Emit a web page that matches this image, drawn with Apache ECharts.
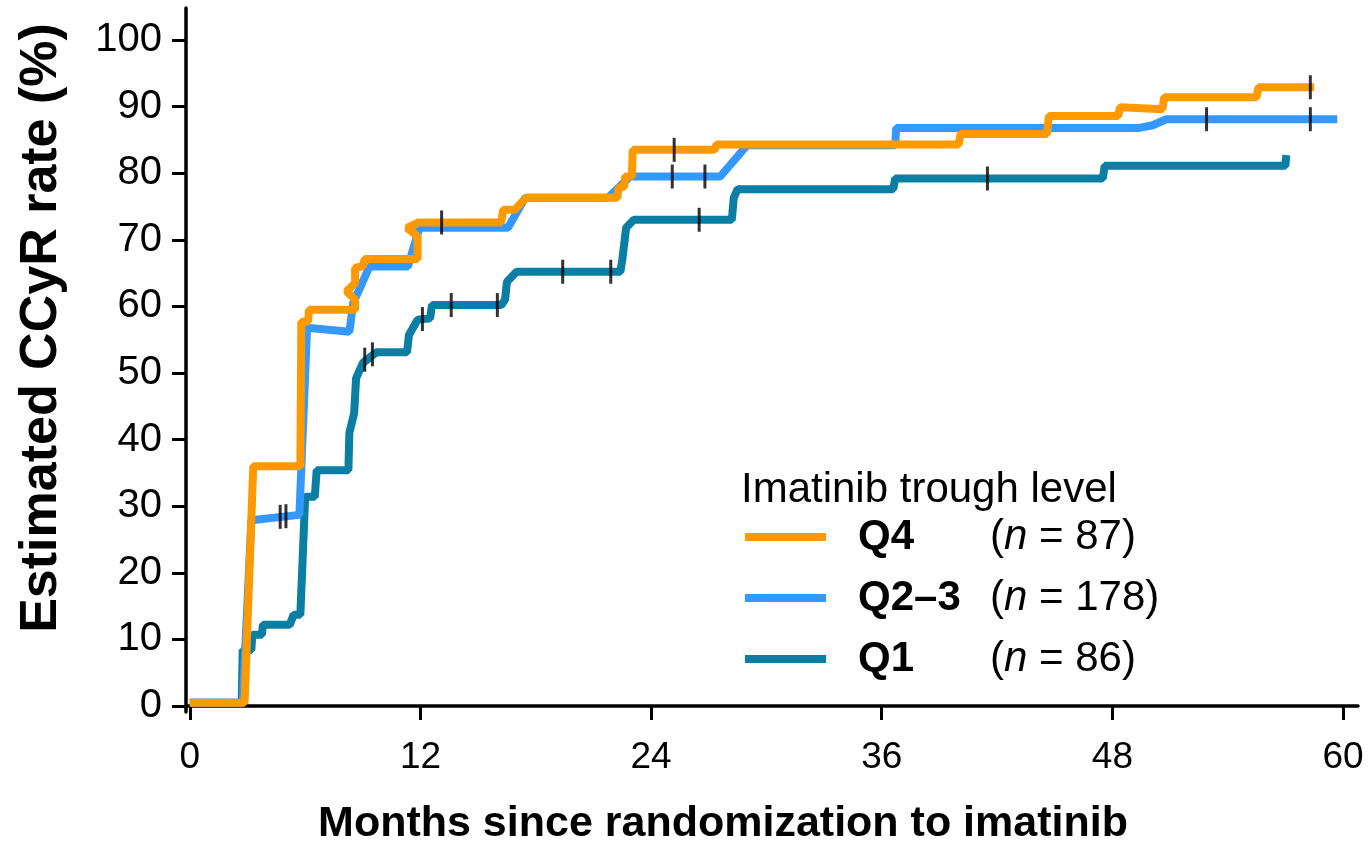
<!DOCTYPE html>
<html>
<head>
    <meta charset="UTF-8">
    <title>Estimated CCyR rate by imatinib trough level</title>
    <style>
        html, body {
            margin: 0;
            padding: 0;
            width: 100%;
            height: 100%;
            overflow: hidden;
            background: #fff;
        }
        #main {
            width: 1370px;
            height: 841px;
        }
    </style>
    <script src="https://cdn.jsdelivr.net/npm/echarts@6/dist/echarts.min.js"></script>
</head>
<body>
    <div id="main"></div>

    <script>
        // Kaplan-Meier style curves, [month, rate %]
        const q4Curve = [
            [0, 0.5], [2.85, 0.5], [3.3, 36], [5.75, 36], [5.8, 57.7], [6.15, 57.7], [6.2, 59.5],
            [8.6, 59.5], [8.6, 61], [8.15, 62.3], [8.6, 63.5], [8.6, 65.8], [9.0, 66], [9.1, 67.1],
            [11.85, 67.1], [11.85, 70.5], [11.3, 71.8], [11.9, 72.6], [16.2, 72.6], [16.3, 74.5],
            [16.9, 74.5], [17.5, 76.3], [22.25, 76.3], [22.3, 77.8], [22.6, 78.0], [22.65, 79.5],
            [23.0, 79.5], [23.05, 83.5], [27.3, 83.5], [27.4, 84.3], [40.0, 84.3], [40.1, 85.9],
            [44.6, 85.9], [44.7, 88.6], [48.3, 88.6], [48.4, 89.9], [50.6, 89.6], [50.7, 91.4],
            [55.5, 91.4], [55.6, 92.9], [58.5, 92.9]
        ];
        const q23Curve = [
            [0, 0.5], [2.75, 0.5], [3.2, 27.9], [5.7, 28.7], [6.1, 56.8], [8.3, 56.2], [8.5, 60.5],
            [9.35, 66], [11.35, 66], [11.95, 71.8], [16.55, 71.8], [17.45, 76.3], [21.75, 76.3],
            [22.9, 79.5], [27.6, 79.5], [29.0, 84.2], [36.7, 84.2], [36.75, 86.8], [49.4, 86.8],
            [50.1, 87.2], [50.8, 88.1], [59.7, 88.1]
        ];
        const q1Curve = [
            [0, 0.5], [2.7, 0.5], [2.75, 8.4], [3.2, 8.4], [3.25, 10.7], [3.75, 10.7], [3.8, 12.2],
            [5.2, 12.2], [5.4, 13.7], [5.75, 13.7], [6.0, 31.4], [6.5, 31.4], [6.6, 35.4],
            [8.25, 35.4], [8.3, 41], [8.55, 44], [8.65, 49.2], [9.0, 51.5], [9.7, 53.1],
            [11.3, 53.1], [11.4, 55.7], [11.85, 58], [12.5, 58.2], [12.6, 60.2], [16.2, 60.2],
            [16.4, 61], [16.5, 63.7], [17.0, 65.2], [22.4, 65.2], [22.5, 67], [22.7, 71.8],
            [23.1, 73], [28.2, 73], [28.3, 76.3], [28.5, 77.6], [36.6, 77.6], [36.7, 79.2],
            [47.5, 79.2], [47.6, 81.1], [57.0, 81.1], [57.05, 82.7]
        ];

        // censoring marks
        const q4Censor = [[13.1, 72.6], [25.2, 83.5], [58.3, 92.9]];
        const q23Censor = [[4.7, 28.4], [5.0, 28.5], [25.1, 79.5], [26.8, 79.5], [52.9, 88.1], [58.3, 88.1]];
        const q1Censor = [[9.1, 52.0], [9.5, 52.8], [12.1, 58.1], [13.6, 60.2], [16.0, 60.2],
            [19.4, 65.2], [21.9, 65.2], [26.5, 73], [41.5, 79.2]];

        const groupNames = ['Q4', 'Q2–3', 'Q1'];
        const groupCounts = [87, 178, 86];
        const groupColors = ['#ff9900', '#3399ff', '#0a7fa3'];

        const xTicks = [0, 12, 24, 36, 48, 60];
        const yTicks = [0, 10, 20, 30, 40, 50, 60, 70, 80, 90, 100];

        const FONT = '"Liberation Sans", Arial, sans-serif';

        const chart = echarts.init(document.getElementById('main'));

        function curveSeries(name, data, color) {
            return {
                name: name,
                type: 'line',
                data: data,
                showSymbol: false,
                symbol: 'none',
                lineStyle: { width: 8, color: color },
                itemStyle: { color: color },
                animation: false
            };
        }

        function censorSeries(data) {
            return {
                type: 'scatter',
                data: data,
                symbol: 'rect',
                symbolSize: [3, 24],
                itemStyle: { color: '#000' },
                z: 5,
                animation: false
            };
        }

        const option = {
            backgroundColor: '#fff',
            textStyle: { fontFamily: FONT, color: '#000' },
            title: {
                text: 'Imatinib trough level',
                left: 736,
                top: 464,
                textStyle: { fontFamily: FONT, fontSize: 42, fontWeight: 'normal', color: '#000' }
            },
            legend: {
                data: groupNames,
                orient: 'vertical',
                left: 745,
                top: 516,
                padding: 0,
                icon: 'rect',
                itemWidth: 81,
                itemHeight: 8,
                itemGap: 19,
                formatter: function (name) {
                    const n = groupCounts[groupNames.indexOf(name)];
                    return '{s| }{b|' + name + '}{r|(}{i|n}{r| = ' + n + ')}';
                },
                textStyle: {
                    fontFamily: FONT,
                    fontSize: 42,
                    color: '#000',
                    rich: {
                        s: { width: 27, fontSize: 42 },
                        b: { width: 132, fontSize: 42, fontWeight: 'bold', fontFamily: FONT },
                        r: { fontSize: 42, fontFamily: FONT },
                        i: { fontSize: 42, fontStyle: 'italic', fontFamily: FONT }
                    }
                }
            },
            grid: { left: 186, right: 12, top: 8, bottom: 129, outerBoundsMode: 'none', containLabel: false },
            xAxis: {
                type: 'value',
                min: -0.2,
                max: 60.78,
                name: 'Months since randomization to imatinib',
                nameLocation: 'middle',
                nameGap: 91,
                nameTextStyle: {
                    fontFamily: FONT, fontSize: 43, fontWeight: 'bold', color: '#000',
                    padding: [0, 98, 0, 0]
                },
                axisLine: { onZero: true, lineStyle: { color: '#000', width: 3.5 } },
                axisTick: { customValues: xTicks, length: 14, lineStyle: { width: 3, color: '#000' } },
                axisLabel: { customValues: xTicks, fontSize: 37, margin: 27, color: '#000', fontFamily: FONT },
                splitLine: { show: false }
            },
            yAxis: {
                type: 'value',
                min: -0.9,
                max: 104.8,
                name: 'Estimated CCyR rate (%)',
                nameLocation: 'middle',
                nameRotate: 90,
                nameGap: 118,
                nameTextStyle: {
                    fontFamily: FONT, fontSize: 52, fontWeight: 'bold', color: '#000',
                    padding: [0, 0, 0, 64]
                },
                axisLine: { onZero: false, lineStyle: { color: '#000', width: 3.5 } },
                axisTick: { customValues: yTicks, length: 14, lineStyle: { width: 3, color: '#000' } },
                axisLabel: { customValues: yTicks, fontSize: 40, margin: 24, color: '#000', fontFamily: FONT },
                splitLine: { show: false }
            },
            series: [
                curveSeries(groupNames[2], q1Curve, groupColors[2]),
                curveSeries(groupNames[1], q23Curve, groupColors[1]),
                curveSeries(groupNames[0], q4Curve, groupColors[0]),
                censorSeries(q1Censor),
                censorSeries(q23Censor),
                censorSeries(q4Censor)
            ]
        };

        chart.setOption(option);

        window.addEventListener('resize', () => chart.resize());
    </script>
</body>
</html>
